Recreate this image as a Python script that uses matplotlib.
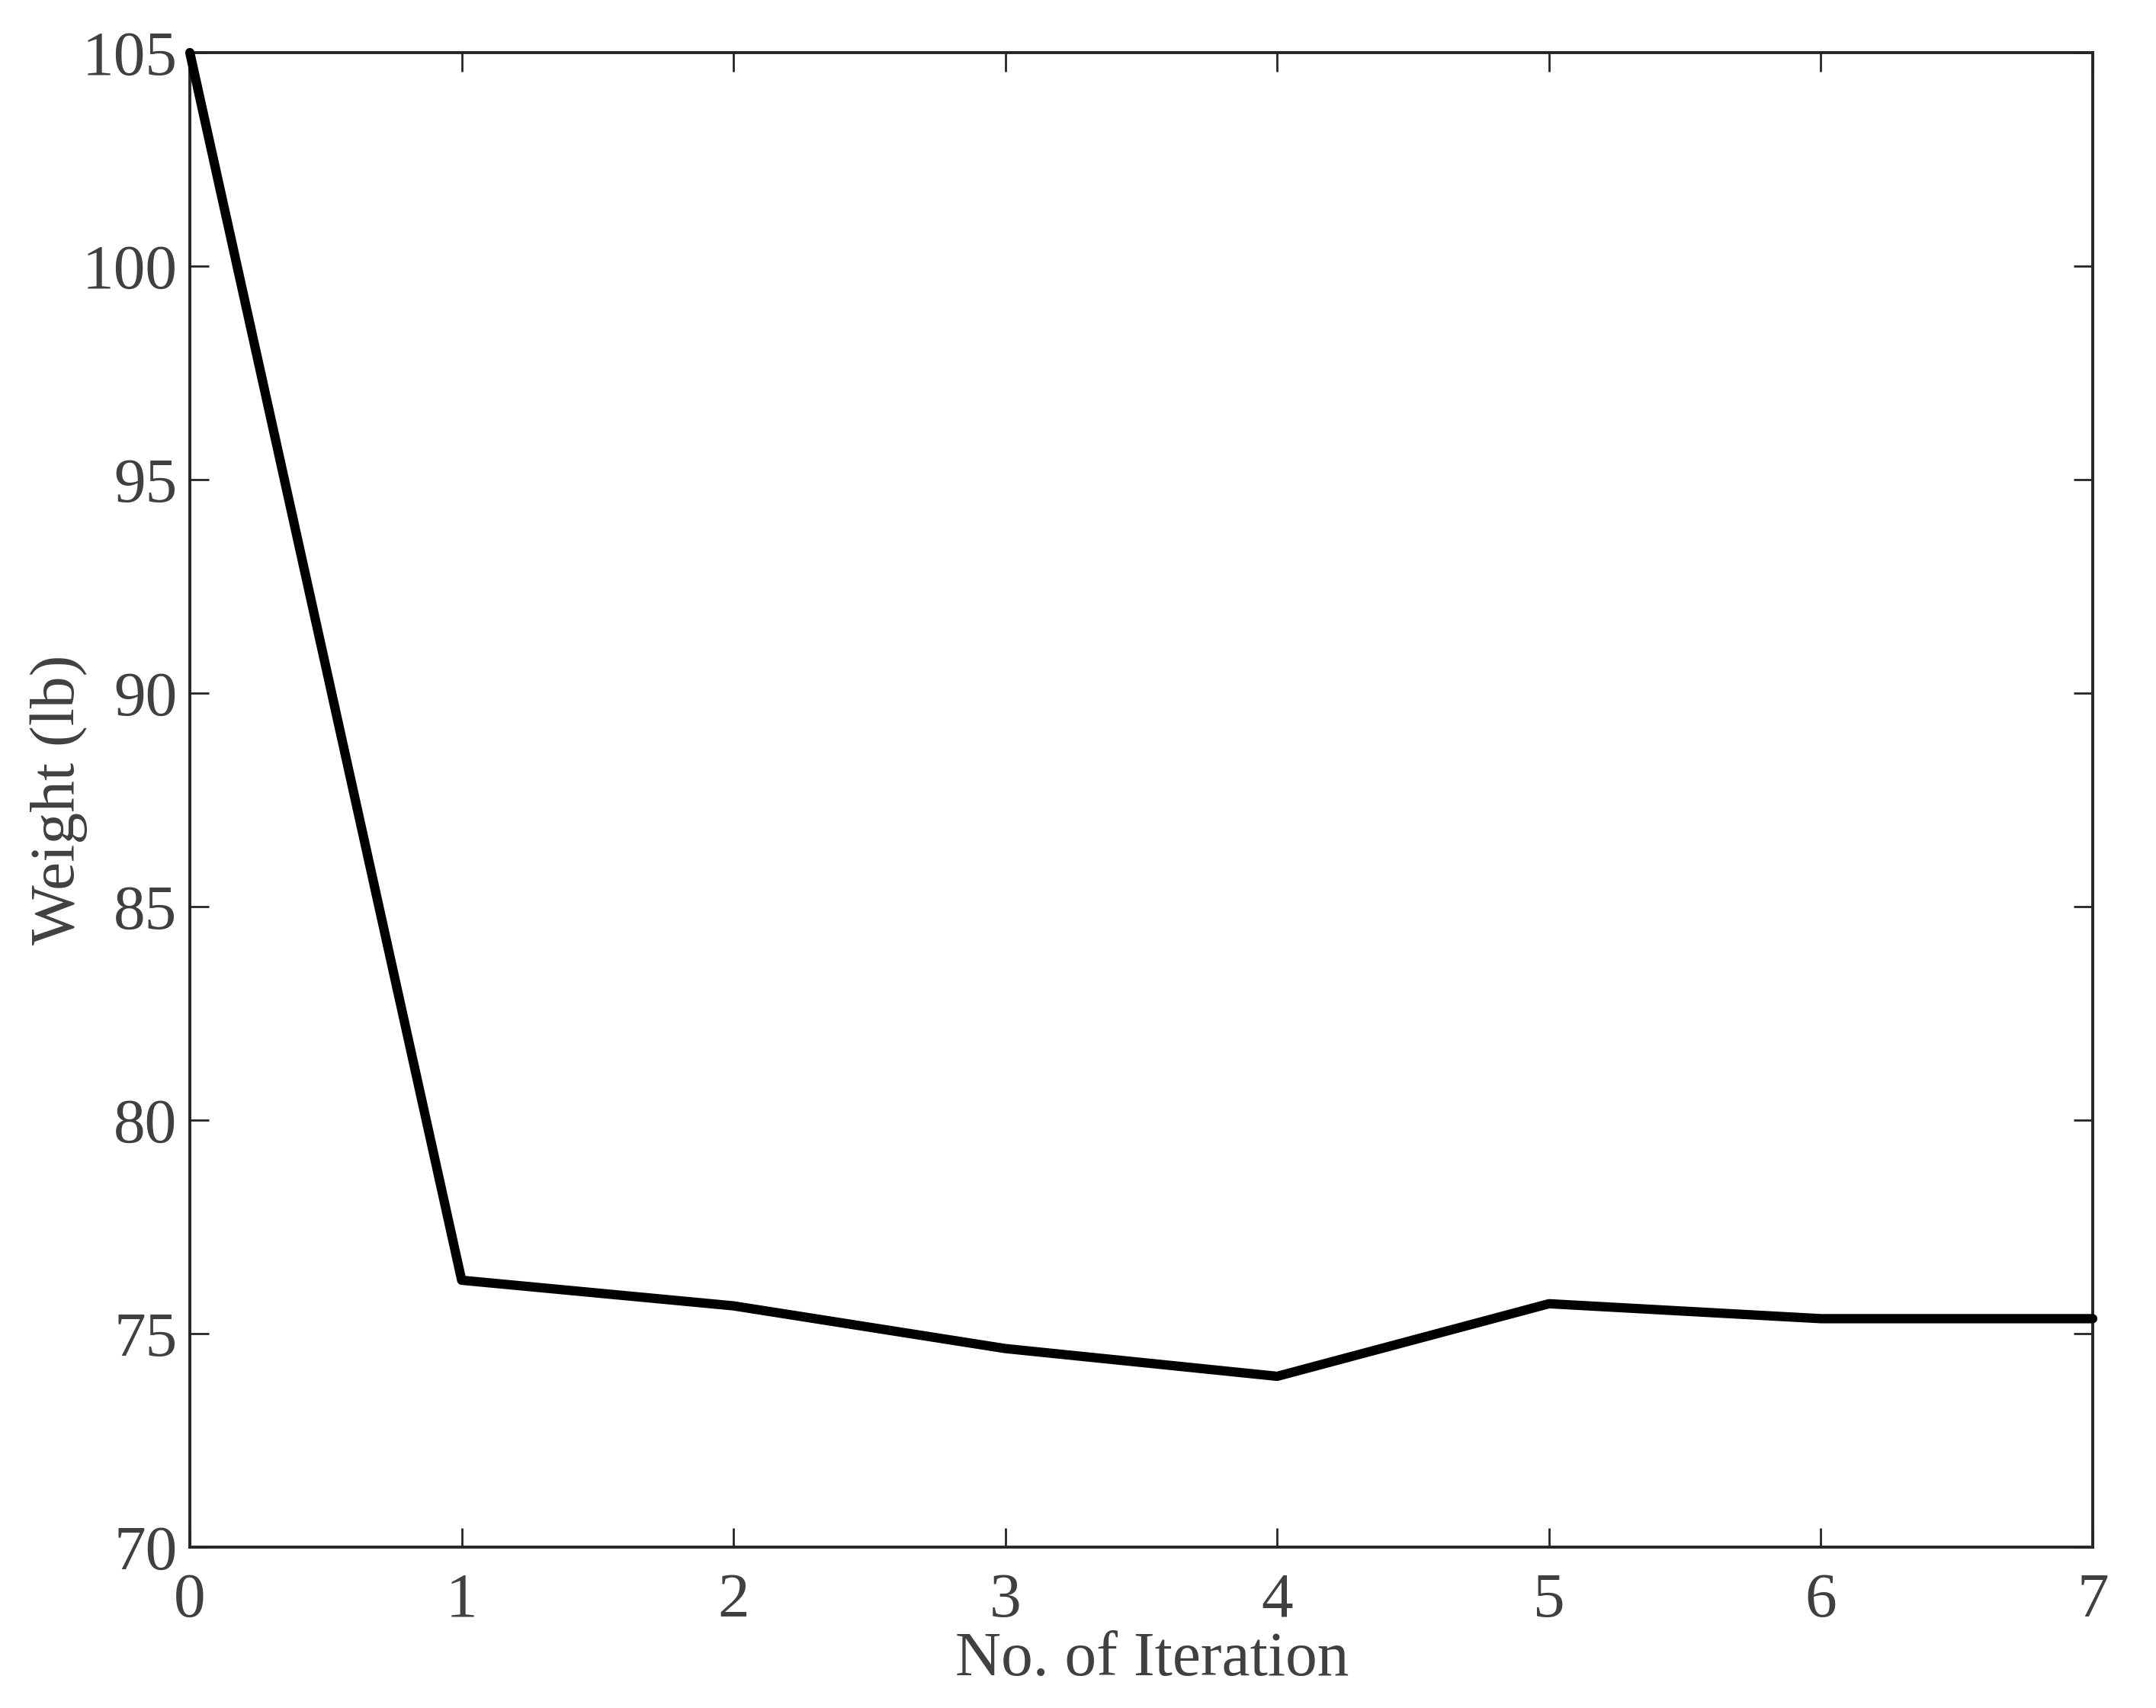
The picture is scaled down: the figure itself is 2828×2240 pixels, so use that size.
import matplotlib
matplotlib.use("Agg")
import matplotlib.pyplot as plt

iterations = [0, 1, 2, 3, 4, 5, 6, 7]
weights = [105.0, 76.25, 75.65, 74.65, 74.0, 75.7, 75.35, 75.35]
xticks = [0, 1, 2, 3, 4, 5, 6, 7]
yticks = [70, 75, 80, 85, 90, 95, 100, 105]
xlabel = "No. of Iteration"
ylabel = "Weight (lb)"

plt.rcParams['font.family'] = ['Liberation Serif', 'DejaVu Serif']
txt = '#404040'
W, H, dpi = 2828, 2240, 200
fig = plt.figure(figsize=(W / dpi, H / dpi), dpi=dpi)
L, R, T, B = 249, 2745, 69, 2029
ax = fig.add_axes([L / W, 1 - B / H, (R - L) / W, (B - T) / H])

ax.plot(iterations, weights, color='black', lw=4.4, solid_capstyle='round',
        solid_joinstyle='round', clip_on=False, zorder=3)

ax.set_xlim(0, 7)
ax.set_ylim(70, 105)
ax.set_xticks(xticks)
ax.set_yticks(yticks)
ax.set_xticklabels([str(v) for v in xticks])
ax.set_yticklabels([str(v) for v in yticks])

for s in ax.spines.values():
    s.set_linewidth(1.4)
    s.set_color('#262626')

ax.tick_params(axis='both', direction='in', length=9, width=1.0, color='#262626',
               labelsize=30, labelcolor=txt, top=True, right=True)
ax.tick_params(axis='x', pad=12)
ax.tick_params(axis='y', pad=6)
for lab in ax.get_yticklabels():
    lab.set_verticalalignment('center_baseline')

ax.set_xlabel(xlabel, fontsize=30, color=txt)
ax.xaxis.set_label_coords((1511 - L) / (R - L), (B - 2177) / (B - T))
ax.xaxis.label.set_verticalalignment('center')
ax.set_ylabel(ylabel, fontsize=30, color=txt)
ax.yaxis.set_label_coords((115 - L) / (R - L), 0.5)

fig.savefig('out.png', dpi=dpi, facecolor='white')
